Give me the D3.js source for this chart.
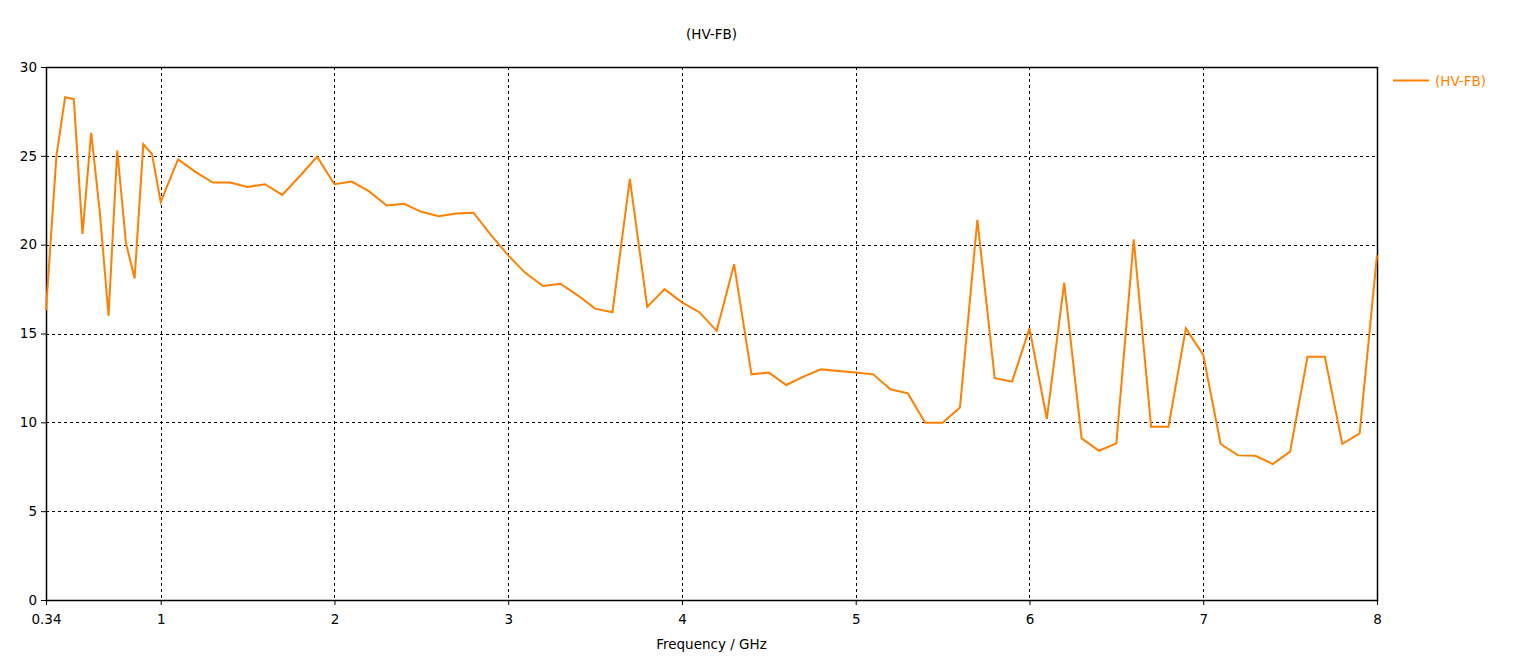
<!DOCTYPE html>
<html>
<head>
<meta charset="utf-8">
<script src="https://cdn.jsdelivr.net/npm/d3@7"></script>
<style>
  body { margin: 0; background: #fff; }
  text { font-family: "DejaVu Sans", sans-serif; font-size: 13.5px; fill: #000; }
</style>
</head>
<body>
<div id="chart"></div>
<script>
var svgWidth = 1520;
var svgHeight = 662;

var margin = { top: 67, right: 143, bottom: 62, left: 46 };
var width = svgWidth - margin.left - margin.right;
var height = svgHeight - margin.top - margin.bottom;

// data
var seriesName = "(HV-FB)";
var freqs = [0.34, 0.4, 0.45, 0.5, 0.55, 0.6, 0.65, 0.7, 0.75, 0.8, 0.85, 0.9, 0.95,
  1.0, 1.1, 1.2, 1.3, 1.4, 1.5, 1.6, 1.7, 1.8, 1.9,
  2.0, 2.1, 2.2, 2.3, 2.4, 2.5, 2.6, 2.7, 2.8, 2.9,
  3.0, 3.1, 3.2, 3.3, 3.4, 3.5, 3.6, 3.7, 3.8, 3.9,
  4.0, 4.1, 4.2, 4.3, 4.4, 4.5, 4.6, 4.7, 4.8, 4.9,
  5.0, 5.1, 5.2, 5.3, 5.4, 5.5, 5.6, 5.7, 5.8, 5.9,
  6.0, 6.1, 6.2, 6.3, 6.4, 6.5, 6.6, 6.7, 6.8, 6.9,
  7.0, 7.1, 7.2, 7.3, 7.4, 7.5, 7.6, 7.7, 7.8, 7.9, 8.0];
var values = [16.3, 25.0, 28.3, 28.2, 20.6, 26.3, 21.8, 16.0, 25.3, 20.1, 18.1, 25.65, 25.1,
  22.4, 24.8, 24.1, 23.5, 23.5, 23.25, 23.4, 22.8, 23.85, 24.95,
  23.4, 23.55, 23.0, 22.2, 22.3, 21.85, 21.6, 21.75, 21.8, 20.55,
  19.4, 18.4, 17.67, 17.8, 17.15, 16.4, 16.2, 23.7, 16.5, 17.5,
  16.75, 16.2, 15.15, 18.9, 12.7, 12.8, 12.1, 12.57, 12.98, 12.89,
  12.8, 12.7, 11.86, 11.63, 9.98, 9.98, 10.84, 21.4, 12.48, 12.29,
  15.29, 10.19, 17.86, 9.1, 8.4, 8.82, 20.3, 9.75, 9.75, 15.29,
  13.79, 8.78, 8.14, 8.12, 7.65, 8.35, 13.69, 13.69, 8.78, 9.38, 19.4];
var xTicks = [0.34, 1, 2, 3, 4, 5, 6, 7, 8];
var yTicks = [0, 5, 10, 15, 20, 25, 30];

var data = freqs.map(function(f, i) { return { f: f, v: values[i] }; });

var svg = d3.select("#chart")
  .append("svg")
  .attr("width", svgWidth)
  .attr("height", svgHeight);

var chartGroup = svg.append("g")
  .attr("transform", `translate(${margin.left}, ${margin.top})`);

var xScale = d3.scaleLinear()
  .domain([0.34, 8])
  .range([0, width]);

var yScale = d3.scaleLinear()
  .domain([0, 30])
  .range([height, 0]);

// dashed grid
chartGroup.selectAll(".vgrid")
  .data(xTicks.slice(1, -1))
  .enter()
  .append("line")
  .attr("x1", d => Math.round(xScale(d)) + 0.5)
  .attr("x2", d => Math.round(xScale(d)) + 0.5)
  .attr("y1", 0)
  .attr("y2", height)
  .attr("stroke", "#000")
  .attr("stroke-dasharray", "3,3");

chartGroup.selectAll(".hgrid")
  .data(yTicks.slice(1, -1))
  .enter()
  .append("line")
  .attr("x1", 0)
  .attr("x2", width)
  .attr("y1", d => Math.round(yScale(d)) + 0.5)
  .attr("y2", d => Math.round(yScale(d)) + 0.5)
  .attr("stroke", "#000")
  .attr("stroke-dasharray", "3,3");

// axes
var xAxis = d3.axisBottom(xScale).tickValues(xTicks).tickSize(5).tickFormat(d3.format("~g"));
var yAxis = d3.axisLeft(yScale).tickValues(yTicks).tickSize(5);

var xg = chartGroup.append("g")
  .attr("transform", `translate(0, ${height})`)
  .call(xAxis);
var yg = chartGroup.append("g")
  .call(yAxis);

[xg, yg].forEach(function(g) {
  g.select(".domain").remove();
  g.selectAll("line").attr("stroke", "#000");
  g.selectAll("text").style("font-family", "'DejaVu Sans', sans-serif").style("font-size", "13.5px");
});
xg.selectAll("text").attr("dy", "1.15em");
yg.selectAll("text").attr("x", -9);

// frame
chartGroup.append("rect")
  .attr("x", 0.5)
  .attr("y", 0.5)
  .attr("width", width)
  .attr("height", height)
  .attr("fill", "none")
  .attr("stroke", "#000")
  .attr("stroke-width", 1.5);

// series line
var line = d3.line()
  .x(d => xScale(d.f))
  .y(d => yScale(d.v));

chartGroup.append("path")
  .datum(data)
  .attr("d", line)
  .attr("fill", "none")
  .attr("stroke", "#ff8000")
  .attr("stroke-width", 2);

// title and axis label
svg.append("text")
  .attr("x", margin.left + width / 2)
  .attr("y", 39)
  .attr("text-anchor", "middle")
  .text(seriesName);

svg.append("text")
  .attr("x", margin.left + width / 2)
  .attr("y", 649)
  .attr("text-anchor", "middle")
  .text("Frequency / GHz");

// legend
var legend = svg.append("g")
  .attr("transform", `translate(${margin.left + width + 16}, 80)`);
legend.append("line")
  .attr("x1", 0)
  .attr("x2", 36)
  .attr("y1", 0.5)
  .attr("y2", 0.5)
  .attr("stroke", "#ff8000")
  .attr("stroke-width", 2);
legend.append("text")
  .attr("x", 42)
  .attr("y", 6)
  .style("fill", "#ff8000")
  .text(seriesName);
</script>
</body>
</html>
